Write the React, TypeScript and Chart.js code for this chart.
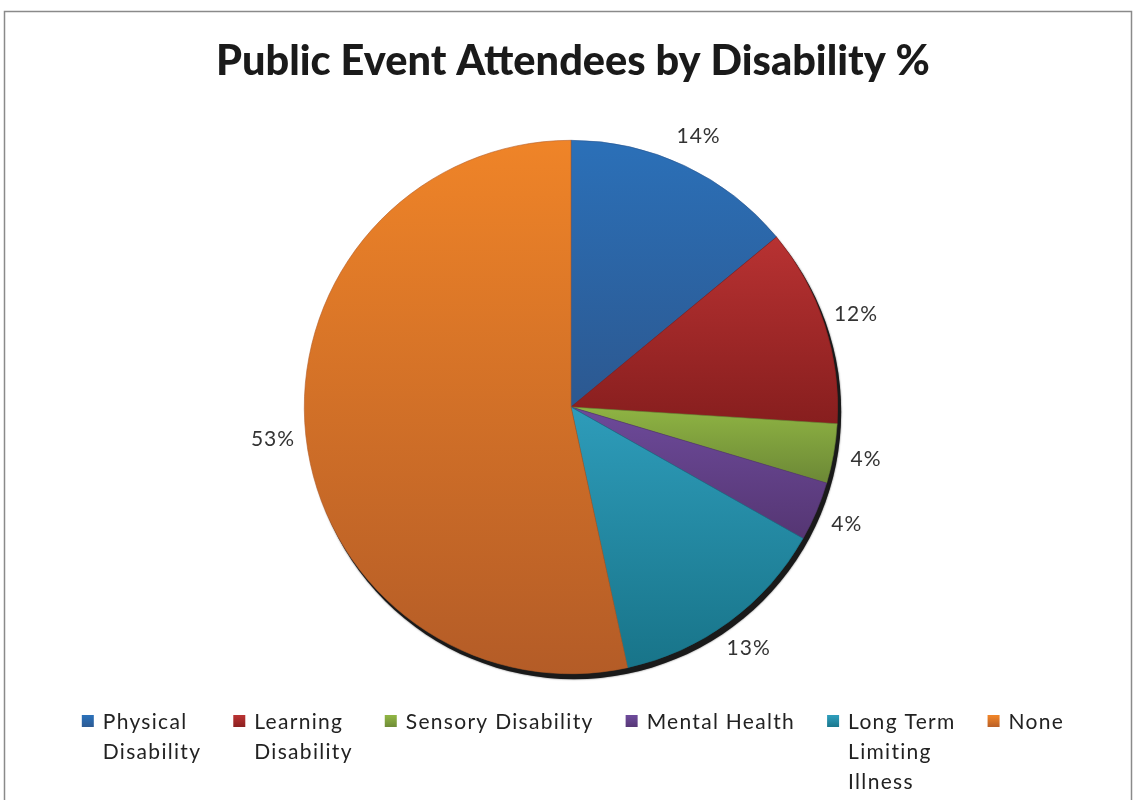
import React, { useEffect, useRef } from "react";
import { Chart, registerables } from "chart.js";

Chart.register(...registerables);

const titleText = "Public Event Attendees by Disability %";
const categories = [
  "Physical Disability",
  "Learning Disability",
  "Sensory Disability",
  "Mental Health",
  "Long Term Limiting Illness",
  "None",
];
const legendLines = [
  ["Physical", "Disability"],
  ["Learning", "Disability"],
  ["Sensory Disability"],
  ["Mental Health"],
  ["Long Term", "Limiting", "Illness"],
  ["None"],
];
const values = [14.0, 12.0, 3.6, 3.6, 13.4, 53.4];
const topColors = ["#2B70B8", "#B83232", "#8FB443", "#6D4A9A", "#2E9CBA", "#EF8428"];
const bottomColors = ["#2C5890", "#871E1E", "#6C8836", "#553673", "#187489", "#B45C27"];

const FONT = "Lato, 'Open Sans', sans-serif";

const decor = {
  id: "decor",
  beforeDraw(chart: any) {
    const ctx = chart.ctx;
    ctx.save();
    ctx.fillStyle = "#ffffff";
    ctx.fillRect(0, 0, chart.width, chart.height);
    ctx.strokeStyle = "#8a8a8a";
    ctx.lineWidth = 1.5;
    ctx.strokeRect(4.5, 11.5, 1127, 900);
    ctx.fillStyle = "#1a1a1a";
    ctx.font = `900 41.5px ${FONT}`;
    ctx.textAlign = "center";
    ctx.textBaseline = "middle";
    ctx.fillText(titleText, 573, 62);
    ctx.restore();
  },
  beforeDatasetsDraw(chart: any) {
    const ctx = chart.ctx;
    const meta = chart.getDatasetMeta(0);
    const first = meta.data[0];
    if (!first) return;
    const cx = first.x, cy = first.y, r = first.outerRadius;
    ctx.save();
    ctx.fillStyle = "#1a1a1a";
    ctx.shadowColor = "rgba(0,0,0,0.6)";
    ctx.shadowBlur = 2;
    ctx.beginPath();
    ctx.arc(cx + 3, cy + 5, r + 0.5, 0, Math.PI * 2);
    ctx.fill();
    ctx.restore();
    meta.data.forEach((arc: any, i: number) => {
      let minY = arc.y, maxY = arc.y;
      const n = 60;
      for (let k = 0; k <= n; k++) {
        const a = arc.startAngle + ((arc.endAngle - arc.startAngle) * k) / n;
        const y = arc.y + Math.sin(a) * arc.outerRadius;
        minY = Math.min(minY, y);
        maxY = Math.max(maxY, y);
      }
      const g = ctx.createLinearGradient(0, minY, 0, maxY);
      g.addColorStop(0, topColors[i]);
      g.addColorStop(1, bottomColors[i]);
      arc.options.backgroundColor = g;
      arc.options.borderColor = bottomColors[i];
    });
  },
  afterDatasetsDraw(chart: any) {
    const ctx = chart.ctx;
    const meta = chart.getDatasetMeta(0);
    const total = values.reduce((a, b) => a + b, 0);
    ctx.save();
    ctx.fillStyle = "#333333";
    ctx.font = `21px ${FONT}`;
    (ctx as any).letterSpacing = "1px";
    ctx.textAlign = "center";
    ctx.textBaseline = "middle";
    meta.data.forEach((arc: any, i: number) => {
      const mid = (arc.startAngle + arc.endAngle) / 2;
      const rr = arc.outerRadius + 33;
      const x = arc.x + Math.cos(mid) * rr;
      const y = arc.y + Math.sin(mid) * rr;
      ctx.fillText(Math.round((values[i] / total) * 100) + "%", x, y);
    });
    // legend
    ctx.font = `21px ${FONT}`;
    (ctx as any).letterSpacing = "1.3px";
    ctx.textAlign = "left";
    const box = 12, gapBox = 9, gapItem = 32;
    const widths = legendLines.map((lines) => Math.max(...lines.map((l) => ctx.measureText(l).width)));
    const totalW = widths.reduce((a, w) => a + box + gapBox + w, 0) + gapItem * (widths.length - 1);
    let x = 573 - totalW / 2;
    const y0 = 722;
    legendLines.forEach((lines, i) => {
      const g = ctx.createLinearGradient(0, y0 - 6, 0, y0 + 6);
      g.addColorStop(0, topColors[i]);
      g.addColorStop(1, bottomColors[i]);
      ctx.fillStyle = g;
      ctx.fillRect(x, y0 - 7, box, box);
      ctx.fillStyle = "#222222";
      lines.forEach((l, j) => ctx.fillText(l, x + box + gapBox, y0 + j * 30));
      x += box + gapBox + widths[i] + gapItem;
    });
    ctx.restore();
  },
};

export default function App() {
  const ref = useRef<HTMLCanvasElement>(null);
  useEffect(() => {
    const canvas = ref.current!;
    const chart = new Chart(canvas, {
      type: "pie",
      data: {
        labels: categories,
        datasets: [
          {
            data: values,
            backgroundColor: topColors,
            borderColor: bottomColors,
            borderWidth: 0.6,
            hoverOffset: 0,
            offset: 0,
          } as any,
        ],
      },
      options: {
        responsive: false,
        animation: false,
        layout: { padding: { top: 140, bottom: 126, left: 304, right: 295 } },
        plugins: {
          legend: { display: false },
          title: { display: false },
          tooltip: { enabled: false },
        },
      },
      plugins: [decor as any],
    });
    return () => chart.destroy();
  }, []);
  return (
    <div style={{ position: "fixed", left: 0, top: 0, width: 1133, height: 800, background: "#fff" }}>
      <canvas ref={ref} width={1133} height={800} style={{ display: "block" }} />
    </div>
  );
}
